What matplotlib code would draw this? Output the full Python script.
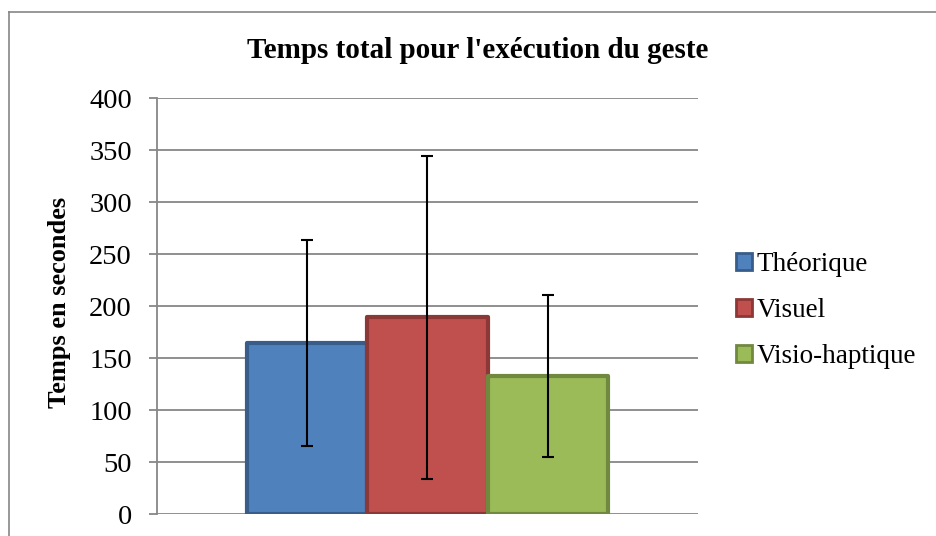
import matplotlib.pyplot as plt
from matplotlib.lines import Line2D
from matplotlib.patches import Patch
import numpy as np

plt.rcParams['font.family'] = ['Liberation Serif', 'DejaVu Serif']

series = ["Théorique", "Visuel", "Visio-haptique"]
values = [164, 189, 133]
errors = [99, 155, 78]
fills = ["#4F81BD", "#C0504D", "#9BBB59"]
edges = ["#385D8A", "#8C3836", "#71893F"]
yticks = [0, 50, 100, 150, 200, 250, 300, 350, 400]

fig = plt.figure(figsize=(9.36, 5.36), dpi=100)
ax = fig.add_axes([157/936, 1 - 514/536, (698 - 157)/936, (514 - 98)/536])

# outer chart frame (only left and top visible)
fig.add_artist(Line2D([8.5/936, 8.5/936], [0, 1 - 11.5/536], transform=fig.transFigure, color="#868686", lw=1.2))
fig.add_artist(Line2D([8.5/936, 1], [1 - 11.5/536, 1 - 11.5/536], transform=fig.transFigure, color="#868686", lw=1.2))

width = 1 / 4.5
x = np.arange(len(series)) * width - width
for i in range(len(series)):
    ax.bar(x[i], values[i], width=width, color=fills[i], edgecolor=edges[i], linewidth=3,
           joinstyle="round", zorder=3, label=series[i])
    ax.errorbar(x[i], values[i], yerr=errors[i], fmt="none", ecolor="black", elinewidth=1.5,
                capsize=4.5, capthick=1.5, zorder=4)

ax.set_xlim(-0.5, 0.5)
ax.set_ylim(0, 400)
ax.set_yticks(yticks)
ax.set_xticks([])
ax.yaxis.grid(True, color="#878787", lw=1.3, zorder=0)
ax.tick_params(axis="y", length=6, width=1.3, color="#878787", labelsize=20.5, pad=12)
for s in ["top", "right", "bottom"]:
    ax.spines[s].set_visible(False)
ax.spines["left"].set_color("#878787")
ax.spines["left"].set_linewidth(1.3)

fig.text(60/936, 1 - 302/536, "Temps en secondes", rotation=90, ha="center", va="center",
         fontsize=19, fontweight="bold")
fig.text(478/936, 1 - 51/536, "Temps total pour l'exécution du geste", ha="center", va="center",
         fontsize=21, fontweight="bold")

handles = [Patch(facecolor=fills[i], edgecolor=edges[i], linewidth=2) for i in range(len(series))]
fig.legend(handles, series, loc="upper left", bbox_to_anchor=(736/936, 1 - 252/536), frameon=False,
           fontsize=19.5, handlelength=0.6, handleheight=0.6, handletextpad=0.15, labelspacing=0.78,
           borderaxespad=0, borderpad=0)

fig.savefig("out.png", dpi=100)
